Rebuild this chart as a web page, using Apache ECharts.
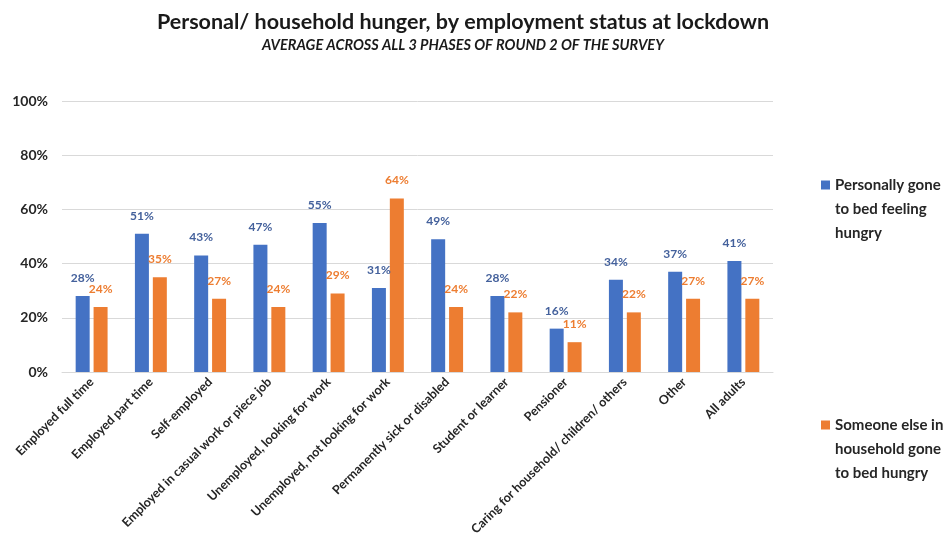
<!DOCTYPE html>
<html>
<head>
<meta charset="utf-8">
<script src="https://cdn.jsdelivr.net/npm/echarts@6/dist/echarts.min.js"></script>
<style>
  html, body { margin: 0; padding: 0; background: #ffffff; }
  #chart { width: 947px; height: 554px; }
</style>
</head>
<body>
<div id="chart"></div>
<script>
// 类别
const categories = [
  'Employed full time', 'Employed part time', 'Self-employed',
  'Employed in casual work or piece job', 'Unemployed, looking for work',
  'Unemployed, not looking for work', 'Permanently sick or disabled',
  'Student or learner', 'Pensioner', 'Caring for household/ children/ others',
  'Other', 'All adults'
]
// 数据 (%)
const personal = [28, 51, 43, 47, 55, 31, 49, 28, 16, 34, 37, 41]
const household = [24, 35, 27, 24, 29, 64, 24, 22, 11, 22, 27, 27]
const yTicks = [0, 20, 40, 60, 80, 100]

const font = 'Lato, "Open Sans", sans-serif'
// 图例文字换行，前面两个空行让图标对齐第一行
const legendNames = {
  'Personally gone to bed feeling hungry': '\n\nPersonally gone\nto bed feeling\nhungry',
  'Someone else in household gone to bed hungry': '\n\nSomeone else in\nhousehold gone\nto bed hungry'
}

const myChart = echarts.init(document.getElementById('chart'))

const legendStyle = {
  fontFamily: font,
  fontSize: 15,
  fontWeight: 'bold',
  color: '#262626',
  lineHeight: 24
}

const options = {
  backgroundColor: '#ffffff',
  textStyle: { fontFamily: font },
  title: {
    text: 'Personal/ household hunger, by employment status at lockdown',
    subtext: 'AVERAGE ACROSS ALL 3 PHASES OF ROUND 2 OF THE SURVEY',
    left: 458,
    top: 6,
    textAlign: 'center',
    itemGap: 5,
    textStyle: { fontFamily: font, fontSize: 21.5, fontWeight: 'bold', color: '#1a1a1a' },
    subtextStyle: { fontFamily: font, fontSize: 14.5, fontWeight: 'bold', fontStyle: 'italic', color: '#1a1a1a' }
  },
  legend: [
    {
      data: ['Personally gone to bed feeling hungry'],
      orient: 'vertical',
      left: 816,
      top: 120,
      icon: 'rect',
      itemWidth: 9,
      itemHeight: 9,
      formatter: (n) => legendNames[n],
      textStyle: legendStyle
    },
    {
      data: ['Someone else in household gone to bed hungry'],
      orient: 'vertical',
      left: 816,
      top: 360,
      icon: 'rect',
      itemWidth: 9,
      itemHeight: 9,
      formatter: (n) => legendNames[n],
      textStyle: legendStyle
    }
  ],
  grid: {
    left: 62,
    right: 174,
    top: 101,
    bottom: 182
  },
  xAxis: {
    type: 'category',
    data: categories,
    axisLine: { lineStyle: { color: '#d9d9d9', width: 1 } },
    axisTick: { show: false },
    axisLabel: {
      interval: 0,
      rotate: 45,
      margin: 8,
      fontFamily: font,
      fontSize: 12.5,
      fontWeight: 'bold',
      color: '#262626'
    }
  },
  yAxis: {
    type: 'value',
    min: yTicks[0],
    max: yTicks[yTicks.length - 1],
    interval: 20,
    axisLine: { show: false },
    axisTick: { show: false },
    splitLine: { lineStyle: { color: '#d9d9d9', width: 1 } },
    axisLabel: {
      formatter: '{value}%',
      margin: 14,
      fontFamily: font,
      fontSize: 14,
      fontWeight: 'bold',
      color: '#262626'
    }
  },
  series: [
    {
      name: 'Personally gone to bed feeling hungry',
      type: 'bar',
      data: personal,
      barWidth: 14,
      barGap: '28%',
      itemStyle: { color: '#4472c4' },
      label: {
        show: true,
        position: 'top',
        distance: 12,
        formatter: '{c}%',
        fontFamily: font,
        fontSize: 12,
        fontWeight: 'bold',
        color: '#44619c'
      }
    },
    {
      name: 'Someone else in household gone to bed hungry',
      type: 'bar',
      data: household,
      barWidth: 14,
      itemStyle: { color: '#ed7d31' },
      label: {
        show: true,
        position: 'top',
        distance: 12,
        formatter: '{c}%',
        fontFamily: font,
        fontSize: 12,
        fontWeight: 'bold',
        color: '#ed7d31'
      }
    }
  ]
}
myChart.setOption(options)
</script>
</body>
</html>
